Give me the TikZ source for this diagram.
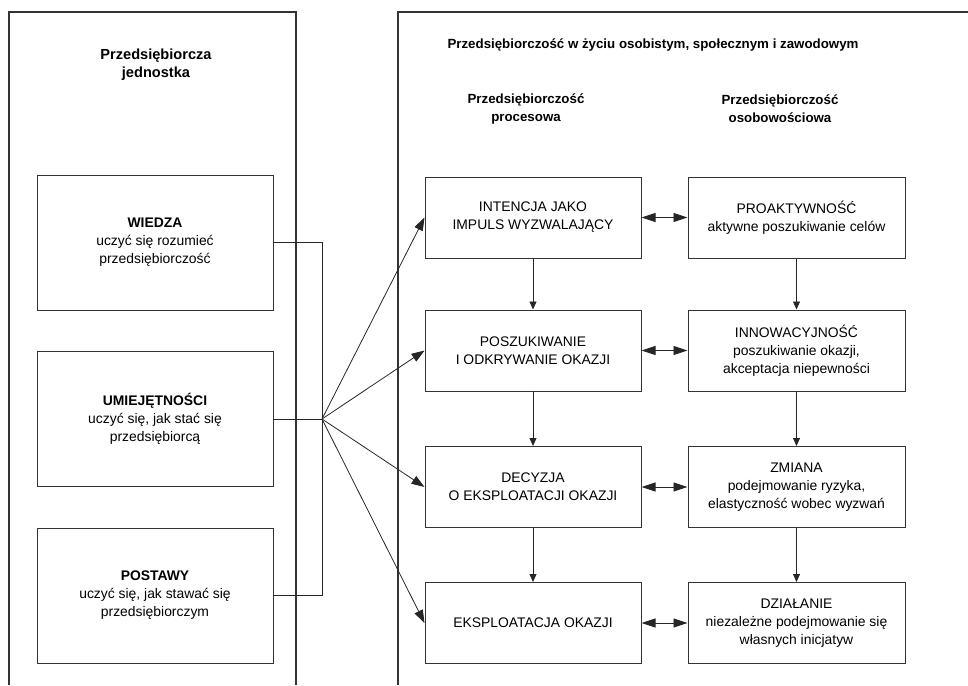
\documentclass[tikz,border=0pt]{standalone}
\usepackage{fontspec}
\setmainfont{Liberation Sans}
\usetikzlibrary{arrows.meta}
\begin{document}
\begin{tikzpicture}[x=1pt,y=-1pt,
  panel/.style={draw=black!80, line width=1.2pt},
  txt/.style={align=center, inner sep=0pt, font=\fontsize{13.9}{18}\selectfont},
  head/.style={align=center, inner sep=0pt, font=\fontsize{13.3}{18}\selectfont\bfseries},
  lbox/.style={draw=black!80, line width=1pt, minimum width=236pt, minimum height=135pt, txt},
  pbox/.style={draw=black!80, line width=1pt, minimum width=216pt, minimum height=81pt, txt},
  conn/.style={draw=black!85, line width=0.8pt},
  fan/.style={conn, -{Triangle[length=13pt,width=9pt]}},
  down/.style={conn, -{Triangle[length=8pt,width=7pt]}},
  both/.style={conn, {Triangle[length=14pt,width=9pt]}-{Triangle[length=14pt,width=9pt]}}
]
\useasboundingbox (0,0) rectangle (968,685);
% panels
\draw[panel] (9,685) -- (9,12) -- (296,12) -- (296,685);
\draw[panel] (398,685) -- (398,12) -- (968,12);
% headers
\node[head, font=\fontsize{14.6}{18}\selectfont\bfseries] (hleft) at (156,65) {Przedsiębiorcza\\jednostka};
\node[head] (hright) at (653,45) {Przedsiębiorczość w życiu osobistym, społecznym i zawodowym};
\node[head] (hproc) at (526,109) {Przedsiębiorczość\\procesowa};
\node[head] (hosob) at (780,109) {Przedsiębiorczość\\osobowościowa};
% left boxes
\node[lbox] (wiedza) at (155,242.5) {\textbf{WIEDZA}\\uczyć się rozumieć\\przedsiębiorczość};
\node[lbox] (umiej) at (155,419) {\textbf{UMIEJĘTNOŚCI}\\uczyć się, jak stać się\\przedsiębiorcą};
\node[lbox] (postawy) at (155,595.5) {\textbf{POSTAWY}\\uczyć się, jak stawać się\\przedsiębiorczym};
% process boxes
\node[pbox] (p1) at (533,217.5) {INTENCJA JAKO\\IMPULS WYZWALAJĄCY};
\node[pbox] (p2) at (533,350.5) {POSZUKIWANIE\\I ODKRYWANIE OKAZJI};
\node[pbox] (p3) at (533,487) {DECYZJA\\O EKSPLOATACJI OKAZJI};
\node[pbox] (p4) at (533,623) {EKSPLOATACJA OKAZJI};
% personality boxes
\node[pbox, minimum width=217pt] (o1) at (796.5,217.5) {PROAKTYWNOŚĆ\\aktywne poszukiwanie celów};
\node[pbox, minimum width=217pt] (o2) at (796.5,350.5) {INNOWACYJNOŚĆ\\poszukiwanie okazji,\\akceptacja niepewności};
\node[pbox, minimum width=217pt] (o3) at (796.5,487) {ZMIANA\\podejmowanie ryzyka,\\elastyczność wobec wyzwań};
\node[pbox, minimum width=217pt] (o4) at (796.5,623) {DZIAŁANIE\\niezależne podejmowanie się\\własnych inicjatyw};
% hub
\coordinate (hub) at (322,419);
\draw[conn] (wiedza.east) -| (hub);
\draw[conn] (postawy.east) -| (hub);
\draw[conn] (umiej.east) -- (hub);
\draw[fan] (hub) -- (p1.west);
\draw[fan] (hub) -- (p2.west);
\draw[fan] (hub) -- (p3.west);
\draw[fan] (hub) -- (p4.west);
% vertical arrows
\draw[down] (p1) -- (p2);
\draw[down] (p2) -- (p3);
\draw[down] (p3) -- (p4);
\draw[down] (o1) -- (o2);
\draw[down] (o2) -- (o3);
\draw[down] (o3) -- (o4);
% double arrows
\draw[both] (p1) -- (o1);
\draw[both] (p2) -- (o2);
\draw[both] (p3) -- (o3);
\draw[both] (p4) -- (o4);
\end{tikzpicture}
\end{document}
